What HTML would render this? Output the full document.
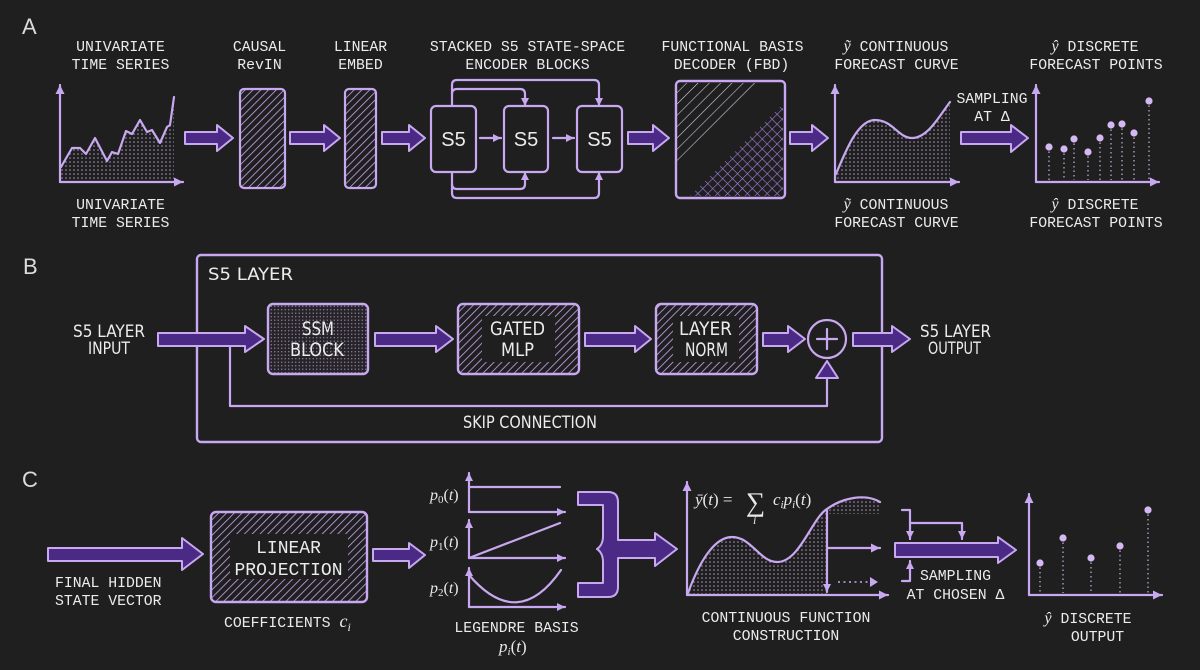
<!DOCTYPE html>
<html><head><meta charset="utf-8"><style>
html,body{margin:0;padding:0;background:#1f1f1f;}
svg{display:block;}
.m{font-family:"Liberation Mono","DejaVu Sans Mono",monospace;font-size:14.8px;fill:#ececec;}
.c{font-family:"DejaVu Sans Condensed","Liberation Sans Narrow","Liberation Sans",sans-serif;font-size:17px;fill:#ececec;}
.cb{font-family:"DejaVu Sans Condensed","Liberation Sans Narrow","Liberation Sans",sans-serif;font-size:19px;fill:#ececec;}
.s{font-family:"Liberation Serif","DejaVu Serif",serif;fill:#e8e8e8;}
.L{font-family:"Liberation Sans",sans-serif;font-size:22px;fill:#dcdcdc;}
.ln{fill:none;stroke:#c8a8f0;stroke-width:2.2;stroke-linecap:round;stroke-linejoin:round;}
.ar{fill:#4a2a84;stroke:#c8a8f0;stroke-width:2;stroke-linejoin:round;}
</style></head><body>
<svg width="1200" height="670" viewBox="0 0 1200 670" xmlns="http://www.w3.org/2000/svg">
<defs>
  <pattern id="hatch" width="5.5" height="5.5" patternUnits="userSpaceOnUse" patternTransform="rotate(45)">
    <line x1="0" y1="0" x2="0" y2="5.5" stroke="#c8a8f0" stroke-width="1.6"/>
  </pattern>
  <pattern id="hatchw" width="8" height="8" patternUnits="userSpaceOnUse" patternTransform="rotate(45)">
    <line x1="0" y1="0" x2="0" y2="8" stroke="#e0d8ee" stroke-width="1.1"/>
  </pattern>
  <pattern id="cross" width="7" height="7" patternUnits="userSpaceOnUse" patternTransform="rotate(45)">
    <line x1="0" y1="0" x2="0" y2="7" stroke="#a580e0" stroke-width="1.2"/>
    <line x1="0" y1="0" x2="7" y2="0" stroke="#a580e0" stroke-width="1.2"/>
  </pattern>
  <pattern id="dots" width="4" height="4" patternUnits="userSpaceOnUse">
    <circle cx="2" cy="2" r="0.8" fill="#a898bc"/>
  </pattern>
  <pattern id="dots2" width="3.5" height="3.5" patternUnits="userSpaceOnUse">
    <circle cx="1.75" cy="1.75" r="0.7" fill="#8e82a2"/>
  </pattern>
  <marker id="ah" viewBox="0 0 10 10" refX="10" refY="5" markerWidth="9" markerHeight="9" markerUnits="userSpaceOnUse" orient="auto">
    <path d="M0,0 L10,5 L0,10 z" fill="#c8a8f0"/>
  </marker>
  <marker id="ahs" viewBox="0 0 10 10" refX="10" refY="5" markerWidth="8" markerHeight="8" markerUnits="userSpaceOnUse" orient="auto">
    <path d="M0,0 L10,5 L0,10 z" fill="#c8a8f0"/>
  </marker>
</defs>
<rect width="1200" height="670" fill="#1f1f1f"/>

<!-- ============ SECTION A ============ -->
<text class="L" x="22" y="34">A</text>

<text class="m" x="120.5" y="51" text-anchor="middle">UNIVARIATE</text>
<text class="m" x="120.5" y="69" text-anchor="middle">TIME SERIES</text>
<text class="m" x="120.5" y="209" text-anchor="middle">UNIVARIATE</text>
<text class="m" x="120.5" y="227" text-anchor="middle">TIME SERIES</text>

<!-- chart 1 -->
<polygon points="61,167 72,148 80,148 86,154 95,138 107,161 112,152 118,154 126,131 132,134 140,120 147,132 152,130 160,143 167,127 170,125 174,97 174,180 61,180" fill="url(#dots)"/>
<polyline class="ln" points="61,167 72,148 80,148 86,154 95,138 107,161 112,152 118,154 126,131 132,134 140,120 147,132 152,130 160,143 167,127 170,125 174,97"/>
<line class="ln" x1="60" y1="182" x2="60" y2="85" marker-end="url(#ah)"/>
<line class="ln" x1="60" y1="182" x2="183" y2="182" marker-end="url(#ah)"/>

<!-- arrow A1 -->
<path class="ar" d="M185,132 L217,132 L217,125 L233,138 L217,151 L217,144 L185,144 Z"/>

<text class="m" x="259.5" y="51" text-anchor="middle">CAUSAL</text>
<text class="m" x="259.5" y="69" text-anchor="middle">RevIN</text>
<rect x="240" y="89" width="45" height="99" rx="4" fill="url(#hatch)" stroke="#c8a8f0" stroke-width="2.2"/>

<path class="ar" d="M290,132 L324,132 L324,125 L340,138 L324,151 L324,144 L290,144 Z"/>

<text class="m" x="360.5" y="51" text-anchor="middle">LINEAR</text>
<text class="m" x="360.5" y="69" text-anchor="middle">EMBED</text>
<rect x="345" y="89" width="31" height="99" rx="4" fill="url(#hatch)" stroke="#c8a8f0" stroke-width="2.2"/>

<path class="ar" d="M382,132 L409,132 L409,125 L425,138 L409,151 L409,144 L382,144 Z"/>

<text class="m" x="527.5" y="51" text-anchor="middle">STACKED S5 STATE-SPACE</text>
<text class="m" x="527.5" y="69" text-anchor="middle">ENCODER BLOCKS</text>

<!-- S5 connectors -->
<path class="ln" d="M452,106 L452,85 Q452,80 457,80 L594,80 Q599,80 599,85 L599,106" marker-end="url(#ahs)"/>
<path class="ln" d="M452,94 Q452,89 457,89 L520,89 Q525,89 525,94 L525,106" marker-end="url(#ahs)"/>
<path class="ln" d="M452,172 L452,193 Q452,198 457,198 L594,198 Q599,198 599,193 L599,172" marker-end="url(#ahs)"/>
<path class="ln" d="M452,184 Q452,189 457,189 L520,189 Q525,189 525,184 L525,172" marker-end="url(#ahs)"/>

<rect x="431" y="106" width="45" height="66" rx="5" fill="#1f1f1f" stroke="#c8a8f0" stroke-width="2.2"/>
<rect x="504" y="106" width="44" height="66" rx="5" fill="#1f1f1f" stroke="#c8a8f0" stroke-width="2.2"/>
<rect x="577" y="106" width="45" height="66" rx="5" fill="#1f1f1f" stroke="#c8a8f0" stroke-width="2.2"/>
<text x="453.5" y="146" text-anchor="middle" font-family="Liberation Sans,sans-serif" font-size="20" fill="#ececec">S5</text>
<text x="526" y="146" text-anchor="middle" font-family="Liberation Sans,sans-serif" font-size="20" fill="#ececec">S5</text>
<text x="599.5" y="146" text-anchor="middle" font-family="Liberation Sans,sans-serif" font-size="20" fill="#ececec">S5</text>
<line class="ln" x1="480" y1="138" x2="501" y2="138" stroke-width="1.8" marker-end="url(#ahs)"/>
<line class="ln" x1="553" y1="138" x2="574" y2="138" stroke-width="1.8" marker-end="url(#ahs)"/>

<path class="ar" d="M628,132 L653,132 L653,125 L669,138 L653,151 L653,144 L628,144 Z"/>

<text class="m" x="732.5" y="51" text-anchor="middle">FUNCTIONAL BASIS</text>
<text class="m" x="731.5" y="69" text-anchor="middle">DECODER (FBD)</text>
<polygon points="677,83 756,83 677,161" fill="url(#hatchw)"/>
<polygon points="783,104 783,196 690,196" fill="url(#cross)"/>
<rect x="676" y="81" width="109" height="117" rx="4" fill="none" stroke="#c8a8f0" stroke-width="2.4"/>

<path class="ar" d="M790,132 L812,132 L812,125 L828,138 L812,151 L812,144 L790,144 Z"/>

<!-- chart 2 -->
<text class="m" x="896" y="51" text-anchor="middle"><tspan font-family="Liberation Serif,serif" font-style="italic" font-size="16">ỹ</tspan> CONTINUOUS</text>
<text class="m" x="896.5" y="69" text-anchor="middle">FORECAST CURVE</text>
<text class="m" x="896" y="209" text-anchor="middle"><tspan font-family="Liberation Serif,serif" font-style="italic" font-size="16">ỹ</tspan> CONTINUOUS</text>
<text class="m" x="896.5" y="227" text-anchor="middle">FORECAST CURVE</text>
<path d="M836,174 C846,150 858,120 875,120 C893,120 898,138 912,138 C928,138 940,115 950,102 L950,180 L836,180 Z" fill="url(#dots)"/>
<path class="ln" d="M836,174 C846,150 858,120 875,120 C893,120 898,138 912,138 C928,138 940,115 950,102" stroke-width="2.6"/>
<line class="ln" x1="835" y1="182" x2="835" y2="85" marker-end="url(#ah)"/>
<line class="ln" x1="835" y1="182" x2="959" y2="182" marker-end="url(#ah)"/>

<text class="m" x="992" y="103" text-anchor="middle">SAMPLING</text>
<text class="m" x="992" y="121" text-anchor="middle">AT Δ</text>
<path class="ar" d="M961,132 L1011,132 L1011,125 L1028,138 L1011,152 L1011,144 L961,144 Z"/>

<!-- chart 3 -->
<text class="m" x="1095" y="51" text-anchor="middle"><tspan font-family="Liberation Serif,serif" font-style="italic" font-size="16">ŷ</tspan> DISCRETE</text>
<text class="m" x="1096" y="69" text-anchor="middle">FORECAST POINTS</text>
<text class="m" x="1095" y="209" text-anchor="middle"><tspan font-family="Liberation Serif,serif" font-style="italic" font-size="16">ŷ</tspan> DISCRETE</text>
<text class="m" x="1096" y="227" text-anchor="middle">FORECAST POINTS</text>
<g stroke="#b8a8cc" stroke-width="1.3" stroke-dasharray="1.5 3">
  <line x1="1049" y1="147" x2="1049" y2="180"/><line x1="1064" y1="149" x2="1064" y2="180"/>
  <line x1="1074" y1="139" x2="1074" y2="180"/><line x1="1088" y1="152" x2="1088" y2="180"/>
  <line x1="1100" y1="138" x2="1100" y2="180"/><line x1="1111" y1="125" x2="1111" y2="180"/>
  <line x1="1122" y1="124" x2="1122" y2="180"/><line x1="1134" y1="133" x2="1134" y2="180"/>
  <line x1="1149" y1="101" x2="1149" y2="180"/>
</g>
<g fill="#d4b8f4">
  <circle cx="1049" cy="147" r="3.6"/><circle cx="1064" cy="149" r="3.6"/><circle cx="1074" cy="139" r="3.6"/>
  <circle cx="1088" cy="152" r="3.6"/><circle cx="1100" cy="138" r="3.6"/><circle cx="1111" cy="125" r="3.6"/>
  <circle cx="1122" cy="124" r="3.6"/><circle cx="1134" cy="133" r="3.6"/><circle cx="1149" cy="101" r="3.6"/>
</g>
<line class="ln" x1="1036" y1="182" x2="1036" y2="85" marker-end="url(#ah)"/>
<line class="ln" x1="1036" y1="182" x2="1159" y2="182" marker-end="url(#ah)"/>

<!-- ============ SECTION B ============ -->
<text class="L" x="23" y="274">B</text>
<rect x="197" y="255" width="685" height="187" rx="4" fill="none" stroke="#c8a8f0" stroke-width="2.4"/>
<text class="c" x="208" y="280" textLength="85" lengthAdjust="spacingAndGlyphs">S5 LAYER</text>

<text class="c" x="73" y="337" textLength="72" lengthAdjust="spacingAndGlyphs">S5 LAYER</text>
<text class="c" x="88" y="354" textLength="42" lengthAdjust="spacingAndGlyphs">INPUT</text>

<!-- skip connection -->
<path class="ln" d="M230,345 L230,406 L827,406 L827,378"/>
<path class="ar" d="M816,378 L827,361 L838,378 Z"/>
<text class="c" x="463" y="428" textLength="134" lengthAdjust="spacingAndGlyphs">SKIP CONNECTION</text>

<path class="ar" d="M158,333 L245,333 L245,326 L264,339 L245,352 L245,346 L158,346 Z"/>

<rect x="268" y="304" width="100" height="70" rx="5" fill="#262428" stroke="#c8a8f0" stroke-width="2.4"/>
<rect x="269" y="305" width="98" height="68" rx="4" fill="url(#dots2)"/>
<text class="cb" x="302" y="335" textLength="32" lengthAdjust="spacingAndGlyphs">SSM</text>
<text class="cb" x="290" y="356" textLength="54" lengthAdjust="spacingAndGlyphs">BLOCK</text>

<path class="ar" d="M375,333 L436,333 L436,326 L453,339 L436,352 L436,346 L375,346 Z"/>

<rect x="458" y="304" width="121" height="70" rx="5" fill="url(#hatch)" stroke="#c8a8f0" stroke-width="2.4"/>
<rect x="482" y="316" width="73" height="46" fill="#1f1f1f"/>
<text class="cb" x="490" y="335" textLength="55" lengthAdjust="spacingAndGlyphs">GATED</text>
<text class="cb" x="501" y="356" textLength="33" lengthAdjust="spacingAndGlyphs">MLP</text>

<path class="ar" d="M585,333 L635,333 L635,326 L651,339 L635,352 L635,346 L585,346 Z"/>

<rect x="656" y="304" width="101" height="70" rx="5" fill="url(#hatch)" stroke="#c8a8f0" stroke-width="2.4"/>
<rect x="673" y="316" width="66" height="46" fill="#1f1f1f"/>
<text class="cb" x="679" y="335" textLength="53" lengthAdjust="spacingAndGlyphs">LAYER</text>
<text class="cb" x="685" y="356" textLength="43" lengthAdjust="spacingAndGlyphs">NORM</text>

<path class="ar" d="M763,333 L788,333 L788,326 L805,339 L788,352 L788,346 L763,346 Z"/>

<circle cx="827" cy="339" r="19" fill="#1f1f1f" stroke="#c8a8f0" stroke-width="2.2"/>
<line class="ln" x1="817" y1="339" x2="837" y2="339"/>
<line class="ln" x1="827" y1="329" x2="827" y2="349"/>

<path class="ar" d="M853,333 L892,333 L892,326 L910,339 L892,352 L892,346 L853,346 Z"/>

<text class="c" x="920" y="337" textLength="71" lengthAdjust="spacingAndGlyphs">S5 LAYER</text>
<text class="c" x="928" y="354" textLength="53" lengthAdjust="spacingAndGlyphs">OUTPUT</text>

<!-- ============ SECTION C ============ -->
<text class="L" x="22" y="487">C</text>

<path class="ar" d="M48,548 L182,548 L182,538 L203,554 L182,570 L182,561 L48,561 Z"/>
<text class="m" x="55" y="587">FINAL HIDDEN</text>
<text class="m" x="55" y="605">STATE VECTOR</text>

<rect x="211" y="512" width="156" height="90" rx="5" fill="url(#hatch)" stroke="#c8a8f0" stroke-width="2.4"/>
<rect x="230" y="534" width="118" height="45" fill="#1f1f1f"/>
<text class="m" x="288.5" y="553" text-anchor="middle" style="font-size:18px">LINEAR</text>
<text class="m" x="288.5" y="575" text-anchor="middle" style="font-size:18px">PROJECTION</text>
<text class="m" x="224" y="627">COEFFICIENTS <tspan font-family="Liberation Serif,serif" font-style="italic" font-size="18">c</tspan><tspan font-family="Liberation Serif,serif" font-style="italic" font-size="12" dy="4">i</tspan></text>

<path class="ar" d="M373,549 L409,549 L409,543 L425,555 L409,568 L409,561 L373,561 Z"/>

<!-- Legendre basis -->
<line class="ln" x1="469" y1="512" x2="469" y2="473" marker-end="url(#ahs)"/>
<line class="ln" x1="469" y1="512" x2="565" y2="512" marker-end="url(#ahs)"/>
<line class="ln" x1="469" y1="487" x2="560" y2="487"/>
<line class="ln" x1="469" y1="558" x2="469" y2="520" marker-end="url(#ahs)"/>
<line class="ln" x1="469" y1="558" x2="565" y2="558" marker-end="url(#ahs)"/>
<line class="ln" x1="469" y1="558" x2="560" y2="523"/>
<line class="ln" x1="469" y1="607" x2="469" y2="568" marker-end="url(#ahs)"/>
<line class="ln" x1="469" y1="607" x2="565" y2="607" marker-end="url(#ahs)"/>
<path class="ln" d="M469,575 Q518,632 561,570"/>
<text class="s" x="430" y="500" font-size="16"><tspan font-style="italic">p</tspan><tspan font-size="11" dy="3">0</tspan><tspan dy="-3">(</tspan><tspan font-style="italic">t</tspan>)</text>
<text class="s" x="430" y="547" font-size="16"><tspan font-style="italic">p</tspan><tspan font-size="11" dy="3">1</tspan><tspan dy="-3">(</tspan><tspan font-style="italic">t</tspan>)</text>
<text class="s" x="430" y="593" font-size="16"><tspan font-style="italic">p</tspan><tspan font-size="11" dy="3">2</tspan><tspan dy="-3">(</tspan><tspan font-style="italic">t</tspan>)</text>
<text class="m" x="516.5" y="632" text-anchor="middle">LEGENDRE BASIS</text>
<text class="s" x="499" y="652" font-size="17"><tspan font-style="italic">p</tspan><tspan font-style="italic" font-size="11" dy="3">i</tspan><tspan dy="-3">(</tspan><tspan font-style="italic">t</tspan>)</text>

<!-- brace arrow -->
<path class="ar" d="M578,492 L608,492 Q618,492 618,502 L618,540 L655,540 L655,533 L677,549 L655,566 L655,558 L618,558 L618,587 Q618,597 608,597 L578,597 L578,583 L603,583 L603,562 Q603,553 597,549 Q603,545 603,536 L603,505 L578,505 Z"/>

<!-- continuous function chart -->
<path d="M688,593 C700,560 715,537 732,537 C752,537 760,563 778,562 C800,561 812,518 827,509 L827,595 L688,595 Z" fill="url(#dots)"/>
<path d="M827,509 C842,498 865,493 880,502 L880,514 L827,514 Z" fill="url(#dots)"/>
<path class="ln" d="M688,593 C700,560 715,537 732,537 C752,537 760,563 778,562 C800,561 812,518 827,509 C842,498 865,493 880,502" stroke-width="2.6"/>
<line class="ln" x1="827" y1="509" x2="827" y2="592" stroke-width="1.8" marker-end="url(#ahs)"/>
<line class="ln" x1="827" y1="548" x2="880" y2="548" stroke-width="1.8" marker-end="url(#ah)"/>
<line x1="838" y1="582" x2="870" y2="582" stroke="#c8a8f0" stroke-width="1.6" stroke-dasharray="2 3.5"/>
<path d="M870,577 L878,582 L870,587 Z" fill="#c8a8f0"/>
<line class="ln" x1="687" y1="595" x2="687" y2="482" marker-end="url(#ah)"/>
<line class="ln" x1="687" y1="595" x2="888" y2="595" marker-end="url(#ah)"/>
<text class="s" x="695" y="505" font-size="17"><tspan font-style="italic">ȳ</tspan>(<tspan font-style="italic">t</tspan>) =</text>
<text class="s" x="746" y="511" font-size="27">∑</text>
<text class="s" x="753" y="524" font-size="12" font-style="italic">i</text>
<text class="s" x="773" y="505" font-size="17"><tspan font-style="italic">c</tspan><tspan font-style="italic" font-size="11" dy="3">i</tspan><tspan font-style="italic" dy="-3">p</tspan><tspan font-style="italic" font-size="11" dy="3">i</tspan><tspan dy="-3">(</tspan><tspan font-style="italic">t</tspan>)</text>
<text class="m" x="786" y="622" text-anchor="middle">CONTINUOUS FUNCTION</text>
<text class="m" x="786" y="640" text-anchor="middle">CONSTRUCTION</text>

<!-- sampling -->
<path class="ln" d="M902,510 L910,510 L910,539" stroke-width="1.8" marker-end="url(#ahs)"/>
<path class="ln" d="M910,523 L962,523 L962,539" stroke-width="1.8" marker-end="url(#ahs)"/>
<path class="ln" d="M902,581 L910,581 L910,561" stroke-width="1.8" marker-end="url(#ahs)"/>
<path class="ar" d="M895,543 L998,543 L998,537 L1016,550 L998,563 L998,557 L895,557 Z"/>
<text class="m" x="955.5" y="580" text-anchor="middle">SAMPLING</text>
<text class="m" x="955.5" y="599" text-anchor="middle">AT CHOSEN Δ</text>

<!-- discrete output chart -->
<g stroke="#b8a8cc" stroke-width="1.3" stroke-dasharray="1.5 3">
  <line x1="1040" y1="563" x2="1040" y2="593"/><line x1="1063" y1="538" x2="1063" y2="593"/>
  <line x1="1091" y1="558" x2="1091" y2="593"/><line x1="1120" y1="546" x2="1120" y2="593"/>
  <line x1="1148" y1="510" x2="1148" y2="593"/>
</g>
<g fill="#d4b8f4">
  <circle cx="1040" cy="563" r="3.6"/><circle cx="1063" cy="538" r="3.6"/><circle cx="1091" cy="558" r="3.6"/>
  <circle cx="1120" cy="546" r="3.6"/><circle cx="1148" cy="510" r="3.6"/>
</g>
<line class="ln" x1="1029" y1="595" x2="1029" y2="494" marker-end="url(#ah)"/>
<line class="ln" x1="1029" y1="595" x2="1162" y2="595" marker-end="url(#ah)"/>
<text class="m" x="1088" y="623" text-anchor="middle"><tspan font-family="Liberation Serif,serif" font-style="italic" font-size="16">ŷ</tspan> DISCRETE</text>
<text class="m" x="1097.5" y="641" text-anchor="middle">OUTPUT</text>
</svg>
</body></html>
